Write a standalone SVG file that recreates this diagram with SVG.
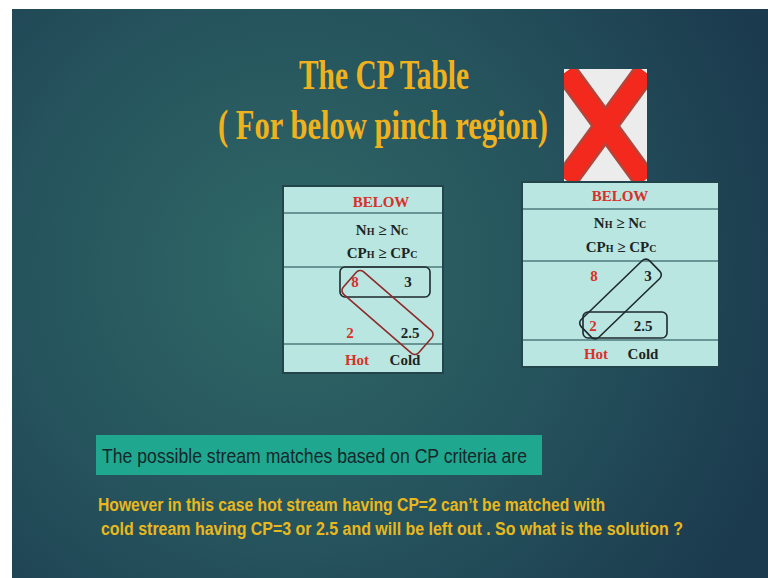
<svg xmlns="http://www.w3.org/2000/svg" width="768" height="578" viewBox="0 0 768 578">
  <defs>
    <radialGradient id="bg" cx="290" cy="270" r="520" gradientUnits="userSpaceOnUse">
      <stop offset="0" stop-color="#2f6866"/>
      <stop offset="0.55" stop-color="#25525c"/>
      <stop offset="1" stop-color="#1b3a4e"/>
    </radialGradient>
    <clipPath id="xclip">
      <rect x="564" y="69" width="83" height="112"/>
    </clipPath>
    <style>
      .title { font-family: "Liberation Serif", "Times New Roman", serif; font-weight: bold; font-size: 42px; fill: #f0b21c; }
      .tbl { fill: #b9e6e1; stroke: #24444c; stroke-width: 2; }
      .row { stroke: #4f7a7c; stroke-width: 1.5; }
      .t { font-family: "Liberation Serif", "Times New Roman", serif; font-weight: bold; font-size: 15px; fill: #1c2424; }
      .red { fill: #d8312a; }
      .sm { font-size: 10px; }
      .box { fill: none; stroke: #1f2a2c; stroke-width: 1.6; }
      .boxred { fill: none; stroke: #8e2a2a; stroke-width: 1.6; }
      .note { font-family: "Liberation Sans", Arial, sans-serif; font-weight: bold; font-size: 19px; fill: #e9b81c; }
    </style>
  </defs>

  <!-- page -->
  <rect x="0" y="0" width="768" height="578" fill="#ffffff"/>
  <rect x="12" y="9" width="756" height="569" fill="url(#bg)"/>

  <!-- heading -->
  <g id="title">
    <text class="title" x="384" y="89" text-anchor="middle" textLength="170" lengthAdjust="spacingAndGlyphs">The CP Table</text>
    <text class="title" x="383" y="139" text-anchor="middle" textLength="330" lengthAdjust="spacingAndGlyphs">( For below pinch region)</text>
  </g>

  <!-- reject mark -->
  <g id="cross">
    <rect x="564" y="69" width="83" height="112" fill="#ececec"/>
    <g clip-path="url(#xclip)" stroke-linecap="butt">
      <line x1="566" y1="72" x2="645" y2="180" stroke="#b3453a" stroke-width="24"/>
      <line x1="645" y1="72" x2="566" y2="180" stroke="#b3453a" stroke-width="24"/>
      <line x1="566" y1="72" x2="645" y2="180" stroke="#f2291c" stroke-width="19"/>
      <line x1="645" y1="72" x2="566" y2="180" stroke="#f2291c" stroke-width="19"/>
    </g>
  </g>

  <!-- CP table, first option -->
  <g id="table-left">
    <rect class="tbl" x="283" y="186" width="160" height="187"/>
    <line class="row" x1="284" y1="213" x2="442" y2="213"/>
    <line class="row" x1="284" y1="267" x2="442" y2="267"/>
    <line class="row" x1="284" y1="344" x2="442" y2="344"/>
    <text class="t red" x="381" y="207" text-anchor="middle">BELOW</text>
    <text class="t" x="382" y="235" text-anchor="middle">N<tspan class="sm">H</tspan> ≥ N<tspan class="sm">C</tspan></text>
    <text class="t" x="382" y="258" text-anchor="middle">CP<tspan class="sm">H</tspan> ≥ CP<tspan class="sm">C</tspan></text>
    <text class="t red" x="355" y="287" text-anchor="middle">8</text>
    <text class="t" x="408" y="287" text-anchor="middle">3</text>
    <text class="t red" x="350" y="338" text-anchor="middle">2</text>
    <text class="t" x="410" y="338" text-anchor="middle">2.5</text>
    <text class="t red" x="357" y="365" text-anchor="middle">Hot</text>
    <text class="t" x="405" y="365" text-anchor="middle">Cold</text>
  </g>

  <!-- CP table, second option -->
  <g id="table-right">
    <rect class="tbl" x="522" y="182" width="197" height="185"/>
    <line class="row" x1="523" y1="209" x2="718" y2="209"/>
    <line class="row" x1="523" y1="261" x2="718" y2="261"/>
    <line class="row" x1="523" y1="340" x2="718" y2="340"/>
    <text class="t red" x="620" y="201" text-anchor="middle">BELOW</text>
    <text class="t" x="620" y="228" text-anchor="middle">N<tspan class="sm">H</tspan> ≥ N<tspan class="sm">C</tspan></text>
    <text class="t" x="621" y="252" text-anchor="middle">CP<tspan class="sm">H</tspan> ≥ CP<tspan class="sm">C</tspan></text>
    <text class="t red" x="594" y="281" text-anchor="middle">8</text>
    <text class="t" x="648" y="281" text-anchor="middle">3</text>
    <text class="t red" x="593" y="331" text-anchor="middle">2</text>
    <text class="t" x="643" y="331" text-anchor="middle">2.5</text>
    <text class="t red" x="596" y="359" text-anchor="middle">Hot</text>
    <text class="t" x="643" y="359" text-anchor="middle">Cold</text>
  </g>

  <!-- match loops -->
  <g id="matches">
    <rect class="box" x="340" y="267" width="90" height="30" rx="5"/>
    <rect class="boxred" x="337.5" y="297.5" width="100" height="30" rx="5" transform="rotate(41 387.5 312.5)"/>
    <rect class="box" x="583" y="312" width="84" height="26" rx="5"/>
    <rect class="box" x="573" y="286.5" width="95" height="25" rx="5" transform="rotate(-44 620.5 299)"/>
  </g>

  <!-- caption -->
  <g id="caption">
    <rect x="96" y="435" width="446" height="40" fill="#1fa88f"/>
    <text transform="translate(102 463) scale(0.85 1)" x="0" y="0" font-family="Liberation Sans, Arial, sans-serif" font-size="21" fill="#16262a" textLength="500" lengthAdjust="spacingAndGlyphs">The possible stream matches based on CP criteria are</text>
  </g>

  <!-- closing remark, set condensed -->
  <g id="remark">
    <text class="note" transform="translate(98 511) scale(0.78 1)" x="0" y="0" textLength="650" lengthAdjust="spacingAndGlyphs">However in this case hot stream  having CP=2 can’t be matched with</text>
    <text class="note" transform="translate(101 535) scale(0.78 1)" x="0" y="0" textLength="746" lengthAdjust="spacingAndGlyphs">cold stream  having CP=3 or 2.5  and will be left out .  So what is the solution ?</text>
  </g>
</svg>
